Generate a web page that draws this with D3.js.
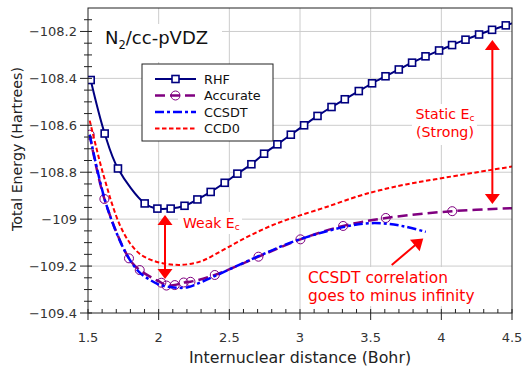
<!DOCTYPE html>
<html><head><meta charset="utf-8">
<script src="https://cdn.jsdelivr.net/npm/d3@7"></script>
<style>
body{margin:0;background:#fff}
text{font-family:"DejaVu Sans",sans-serif}
</style>
</head><body>
<svg id="chart" width="525" height="367"></svg>
<script>
// ---------------- data ----------------
const rhfX = [1.519,1.618,1.712,1.901,1.991,2.085,2.183,2.274,2.368,2.467,2.557,2.656,2.746,2.840,2.935,3.029,3.124,3.223,3.317,3.416,3.510,3.605,3.699,3.793,3.888,3.984,4.076,4.171,4.267,4.359,4.456,4.550];
const rhfE = [-108.407,-108.635,-108.784,-108.933,-108.955,-108.955,-108.943,-108.916,-108.884,-108.845,-108.806,-108.766,-108.721,-108.681,-108.640,-108.600,-108.560,-108.522,-108.489,-108.454,-108.421,-108.391,-108.362,-108.333,-108.306,-108.281,-108.258,-108.235,-108.213,-108.193,-108.174,-108.156];

const accX = [1.512,1.616,1.790,1.866,2.019,2.055,2.114,2.177,2.225,2.397,2.706,3.003,3.305,3.607,4.077,4.500];
const accE = [-108.640,-108.914,-109.167,-109.217,-109.271,-109.283,-109.281,-109.270,-109.267,-109.238,-109.160,-109.086,-109.029,-108.995,-108.966,-108.953];
const accMarker = [1,1,1,1,1,1,1,1,1,1,1,1,1,1,1,0];

const ccsdtX = [1.512,1.564,1.623,1.694,1.776,1.859,1.942,2.012,2.106,2.200,2.307,2.400,2.550,2.706,2.850,3.003,3.150,3.305,3.447,3.588,3.730,3.890];
const ccsdtE = [-108.640,-108.785,-108.925,-109.047,-109.153,-109.224,-109.260,-109.281,-109.291,-109.291,-109.267,-109.242,-109.200,-109.158,-109.120,-109.085,-109.058,-109.034,-109.019,-109.018,-109.030,-109.054];

const ccd0X = [1.512,1.588,1.635,1.670,1.729,1.800,1.871,1.965,2.059,2.154,2.248,2.319,2.400,2.500,2.600,2.700,2.800,2.900,3.000,3.187,3.423,3.564,3.750,4.036,4.343,4.508];
const ccd0E = [-108.580,-108.765,-108.865,-108.935,-109.030,-109.105,-109.150,-109.178,-109.191,-109.195,-109.188,-109.175,-109.150,-109.117,-109.084,-109.054,-109.027,-109.004,-108.984,-108.948,-108.900,-108.877,-108.852,-108.822,-108.791,-108.775];

const xTicks = [1.5,2,2.5,3,3.5,4,4.5];
const xTickLabels = ["1.5","2","2.5","3","3.5","4","4.5"];
const yTicks = [-109.4,-109.2,-109,-108.8,-108.6,-108.4,-108.2];
const yTickLabels = ["\u2212109.4","\u2212109.2","\u2212109","\u2212108.8","\u2212108.6","\u2212108.4","\u2212108.2"];

const seriesNames = ["RHF","Accurate","CCSDT","CCD0"];
const colors = {RHF:"#000080",Accurate:"#800080",CCSDT:"#0000ff",CCD0:"#ff0000"};

// ---------------- layout ----------------
const svg = d3.select("#chart");
const L=88, R=512, T=8, B=313;
const x = d3.scaleLinear().domain([1.5,4.5]).range([L,R]);
const y = d3.scaleLinear().domain([-109.4,-108.1]).range([B,T]);

svg.append("rect").attr("width",525).attr("height",367).attr("fill","#fff");

// grid
const grid = svg.append("g").attr("stroke","#cccccc").attr("stroke-width",1);
xTicks.slice(1,-1).forEach(v=>grid.append("line").attr("x1",x(v)).attr("x2",x(v)).attr("y1",T).attr("y2",B));
yTicks.slice(1).forEach(v=>grid.append("line").attr("x1",L).attr("x2",R).attr("y1",y(v)).attr("y2",y(v)));

// white boxes behind texts
const boxes = [[90,24,132,38],[178,212,64,22],[412,104,65,41],[303,267,182,39]];
boxes.forEach(b=>svg.append("rect").attr("x",b[0]).attr("y",b[1]).attr("width",b[2]).attr("height",b[3]).attr("fill","#fff"));

// clip
svg.append("clipPath").attr("id","clip").append("rect").attr("x",L).attr("y",T).attr("width",R-L).attr("height",B-T);
const plot = svg.append("g").attr("clip-path","url(#clip)");

const line = d3.line().x(d=>x(d[0])).y(d=>y(d[1])).curve(d3.curveCatmullRom.alpha(0.5));
const zip = (a,b)=>a.map((v,i)=>[v,b[i]]);

// RHF
plot.append("path").attr("d",line(zip(rhfX,rhfE))).attr("fill","none").attr("stroke",colors.RHF).attr("stroke-width",2);
plot.selectAll(".sq").data(zip(rhfX,rhfE)).enter().append("rect")
  .attr("x",d=>x(d[0])-3.5).attr("y",d=>y(d[1])-3.5).attr("width",7).attr("height",7)
  .attr("fill","#fff").attr("stroke",colors.RHF).attr("stroke-width",1.6);

// Accurate
plot.append("path").attr("d",line(zip(accX,accE))).attr("fill","none").attr("stroke",colors.Accurate).attr("stroke-width",2.5).attr("stroke-dasharray","10,5");
plot.selectAll(".ci").data(zip(accX,accE).filter((d,i)=>accMarker[i])).enter().append("circle")
  .attr("cx",d=>x(d[0])).attr("cy",d=>y(d[1])).attr("r",4.5)
  .attr("fill","none").attr("stroke",colors.Accurate).attr("stroke-width",1);

// CCSDT
plot.append("path").attr("d",line(zip(ccsdtX,ccsdtE))).attr("fill","none").attr("stroke",colors.CCSDT).attr("stroke-width",2.5).attr("stroke-dasharray","9,3,3,3");

// CCD0
plot.append("path").attr("d",line(zip(ccd0X,ccd0E))).attr("fill","none").attr("stroke",colors.CCD0).attr("stroke-width",2).attr("stroke-dasharray","4.5,2.5");

// frame
svg.append("rect").attr("x",L).attr("y",T).attr("width",R-L).attr("height",B-T).attr("fill","none").attr("stroke","#222").attr("stroke-width",1);

// axes ticks
const ax = svg.append("g").attr("stroke","#222").attr("stroke-width",1);
xTicks.forEach(v=>ax.append("line").attr("x1",x(v)).attr("x2",x(v)).attr("y1",B-4).attr("y2",B+7));
d3.range(15,46).map(v=>v/10).filter(v=>!xTicks.some(t=>Math.abs(t-v)<1e-6)).forEach(v=>ax.append("line").attr("x1",x(v)).attr("x2",x(v)).attr("y1",B-4).attr("y2",B));
yTicks.forEach(v=>ax.append("line").attr("x1",L-8).attr("x2",L+4).attr("y1",y(v)).attr("y2",y(v)));
d3.range(-1094,-1081,0.5).map(v=>v/10).filter(v=>!yTicks.some(t=>Math.abs(t-v)<1e-6)).forEach(v=>ax.append("line").attr("x1",L-4).attr("x2",L+4).attr("y1",y(v)).attr("y2",y(v)));

// tick labels
svg.append("g").selectAll("text").data(xTicks).enter().append("text")
  .attr("x",d=>x(d)).attr("y",342).attr("text-anchor","middle").attr("font-size",13).attr("fill","#333")
  .text((d,i)=>xTickLabels[i]);
svg.append("g").selectAll("text").data(yTicks).enter().append("text")
  .attr("x",77).attr("y",d=>y(d)+4.7).attr("text-anchor","end").attr("font-size",13).attr("fill","#333")
  .text((d,i)=>yTickLabels[i]);

// axis titles
svg.append("text").attr("x",300).attr("y",363).attr("text-anchor","middle").attr("font-size",15.8).attr("fill","#222").text("Internuclear distance (Bohr)");
svg.append("text").attr("transform","translate(22,149) rotate(-90)").attr("text-anchor","middle").attr("font-size",14.2).attr("fill","#222").text("Total Energy (Hartrees)");

// title
const tt = svg.append("text").attr("x",105).attr("y",43.5).attr("font-size",18).attr("fill","#111");
tt.append("tspan").text("N");
tt.append("tspan").attr("font-size",11.5).attr("dy",5).text("2");
tt.append("tspan").attr("dy",-5).text("/cc-pVDZ");

// legend
const lg = svg.append("g");
lg.append("rect").attr("x",142).attr("y",64).attr("width",131).attr("height",77).attr("fill","#fff").attr("stroke","#222").attr("stroke-width",1);
const ly = [79,95.5,112,128.5];
const dashes = {RHF:null,Accurate:"10,5",CCSDT:"9,3,3,3",CCD0:"4.5,2.5"};
const widths = {RHF:2,Accurate:2.5,CCSDT:2.5,CCD0:2};
seriesNames.forEach((n,i)=>{
  lg.append("line").attr("x1",155).attr("x2",196).attr("y1",ly[i]).attr("y2",ly[i])
    .attr("stroke",colors[n]).attr("stroke-width",widths[n]).attr("stroke-dasharray",dashes[n]);
  lg.append("text").attr("x",204).attr("y",ly[i]+4.7).attr("font-size",12.8).attr("fill","#111").text(n);
});
lg.append("rect").attr("x",175.5-3.5).attr("y",ly[0]-3.5).attr("width",7).attr("height",7).attr("fill","#fff").attr("stroke",colors.RHF).attr("stroke-width",1.6);
lg.append("circle").attr("cx",175.5).attr("cy",ly[1]).attr("r",4.5).attr("fill","none").attr("stroke",colors.Accurate).attr("stroke-width",1);

// annotations
const red = "#ff0000";
function head(px,py,dx,dy,len,wid){
  const n = Math.hypot(dx,dy), ux=dx/n, uy=dy/n;
  const bx=px-ux*len, by=py-uy*len;
  svg.append("path").attr("d",`M${px},${py}L${bx-uy*wid/2},${by+ux*wid/2}L${bx+uy*wid/2},${by-ux*wid/2}Z`).attr("fill",red);
}
const weakArrow = {x:2.045, y1:-108.982, y2:-109.255};
const staticArrow = {x:4.361, y1:-108.236, y2:-108.935};
const ccsdtArrow = {x1:3.649, y1:-109.195, x2:3.872, y2:-109.082};

function dbl(a){
  const X=x(a.x), Y1=y(a.y1), Y2=y(a.y2);
  svg.append("line").attr("x1",X).attr("x2",X).attr("y1",Y1+8).attr("y2",Y2-8).attr("stroke",red).attr("stroke-width",2);
  head(X,Y1,0,-1,10,15); head(X,Y2,0,1,10,15);
}
dbl(weakArrow); dbl(staticArrow);
{
  const X1=x(ccsdtArrow.x1),Y1=y(ccsdtArrow.y1),X2=x(ccsdtArrow.x2),Y2=y(ccsdtArrow.y2);
  const dx=X2-X1, dy=Y2-Y1, n=Math.hypot(dx,dy);
  svg.append("line").attr("x1",X1).attr("y1",Y1).attr("x2",X2-dx/n*8).attr("y2",Y2-dy/n*8).attr("stroke",red).attr("stroke-width",2);
  head(X2,Y2,dx,dy,11,15);
}

const wk = svg.append("text").attr("x",183).attr("y",228.3).attr("font-size",14).attr("fill",red);
wk.append("tspan").text("Weak E");
wk.append("tspan").attr("font-size",9).attr("dy",2).text("c");

const st = svg.append("text").attr("y",119).attr("font-size",14.2).attr("fill",red).attr("text-anchor","middle");
st.append("tspan").attr("x",445).text("Static E");
st.append("tspan").attr("font-size",9).attr("dy",2).text("c");
const st2 = svg.append("text").attr("x",445).attr("y",137).attr("font-size",14.2).attr("fill",red).attr("text-anchor","middle").text("(Strong)");

svg.append("text").attr("x",308).attr("y",283).attr("font-size",15.4).attr("fill",red).text("CCSDT correlation");
svg.append("text").attr("x",308).attr("y",301).attr("font-size",15.4).attr("fill",red).text("goes to minus infinity");
</script>
</body></html>
